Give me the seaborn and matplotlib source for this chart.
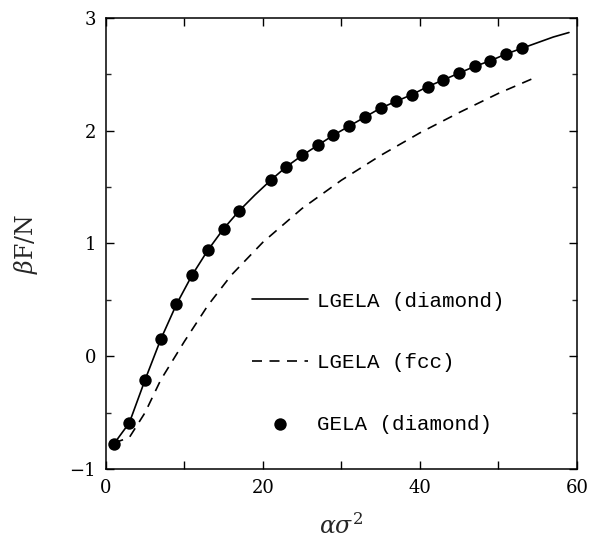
import matplotlib
matplotlib.use("Agg")
import matplotlib.pyplot as plt
import seaborn as sns
import numpy as np

# GELA (diamond) points
gela_x = [1, 3, 5, 7, 9, 11, 13, 15, 17, 21, 23, 25, 27, 29, 31, 33, 35, 37, 39, 41, 43, 45, 47, 49, 51, 53]
gela_y = [-0.78, -0.59, -0.21, 0.15, 0.46, 0.72, 0.94, 1.13, 1.29, 1.56, 1.68, 1.78, 1.87, 1.96, 2.04, 2.12, 2.20, 2.26, 2.32, 2.39, 2.45, 2.51, 2.57, 2.62, 2.68, 2.73]

# LGELA (diamond) solid line
lgd_x = [1, 3, 5, 7, 9, 11, 13, 15, 17, 19, 21, 23, 25, 27, 29, 31, 33, 35, 37, 39, 41, 43, 45, 47, 49, 51, 53, 55, 57, 59]
lgd_y = [-0.78, -0.59, -0.21, 0.15, 0.46, 0.72, 0.94, 1.13, 1.29, 1.43, 1.56, 1.68, 1.78, 1.87, 1.96, 2.04, 2.12, 2.20, 2.26, 2.32, 2.39, 2.45, 2.51, 2.57, 2.62, 2.68, 2.73, 2.78, 2.83, 2.87]

# LGELA (fcc) dashed line
fcc_x = [1, 3, 5, 7, 10, 13, 16, 20, 25, 30, 35, 40, 45, 50, 55]
fcc_y = [-0.77, -0.72, -0.50, -0.21, 0.13, 0.45, 0.72, 1.01, 1.31, 1.56, 1.78, 1.98, 2.16, 2.33, 2.48]

x_ticks = [0, 10, 20, 30, 40, 50, 60]
x_ticklabels = ["0", "", "20", "", "40", "", "60"]
y_ticks = [-1, 0, 1, 2, 3]
y_ticklabels = ["\u22121", "0", "1", "2", "3"]

sns.set_theme(style="ticks")
plt.rcParams["font.family"] = ["DejaVu Serif"]
plt.rcParams["mathtext.fontset"] = "dejavuserif"

fig = plt.figure(figsize=(5.91, 5.41), dpi=100)
ax = fig.add_axes([0.179, 0.133, 0.797, 0.834])

sns.lineplot(x=lgd_x, y=lgd_y, ax=ax, color="black", linewidth=1.2,
             label="LGELA (diamond)", sort=False)
sns.lineplot(x=fcc_x, y=fcc_y, ax=ax, color="black", linewidth=1.2,
             label="LGELA (fcc)", sort=False)
ax.lines[1].set_dashes((6, 4.5))
sns.scatterplot(x=gela_x, y=gela_y, ax=ax, color="black", s=80,
                edgecolor="black", linewidth=0, label="GELA (diamond)", zorder=3)

ax.set_xlim(0, 60)
ax.set_ylim(-1, 3)
ax.set_xticks(x_ticks)
ax.set_xticklabels(x_ticklabels)
ax.set_yticks(y_ticks)
ax.set_yticklabels(y_ticklabels)
ax.set_yticks(np.arange(-1, 3.01, 0.5), minor=True)

for s in ax.spines.values():
    s.set_visible(True)
    s.set_color("black")
    s.set_linewidth(1.1)

ax.tick_params(axis="both", which="major", direction="in", length=6, width=1,
               top=True, right=True, labelsize=13, pad=7, colors="black")
ax.tick_params(axis="y", which="minor", direction="in", length=3.5, width=1,
               left=True, right=True)
ax.tick_params(axis="x", which="minor", bottom=False, top=False)

ax.set_xlabel(r"$\alpha\sigma^2$", fontsize=17, labelpad=12)
ax.set_ylabel(r"$\beta$F/N", fontsize=17, labelpad=21)

handles, labels = ax.get_legend_handles_labels()
leg = ax.legend(handles, labels, loc="upper left", bbox_to_anchor=(0.27, 0.435),
                frameon=False, prop={"family": ["Liberation Mono"], "size": 15},
                handlelength=2.7, handletextpad=0.45,
                labelspacing=2.05, markerscale=1.0)
for t in leg.get_texts():
    t.set_color("black")

fig.savefig("out.png", dpi=100, facecolor="white")
